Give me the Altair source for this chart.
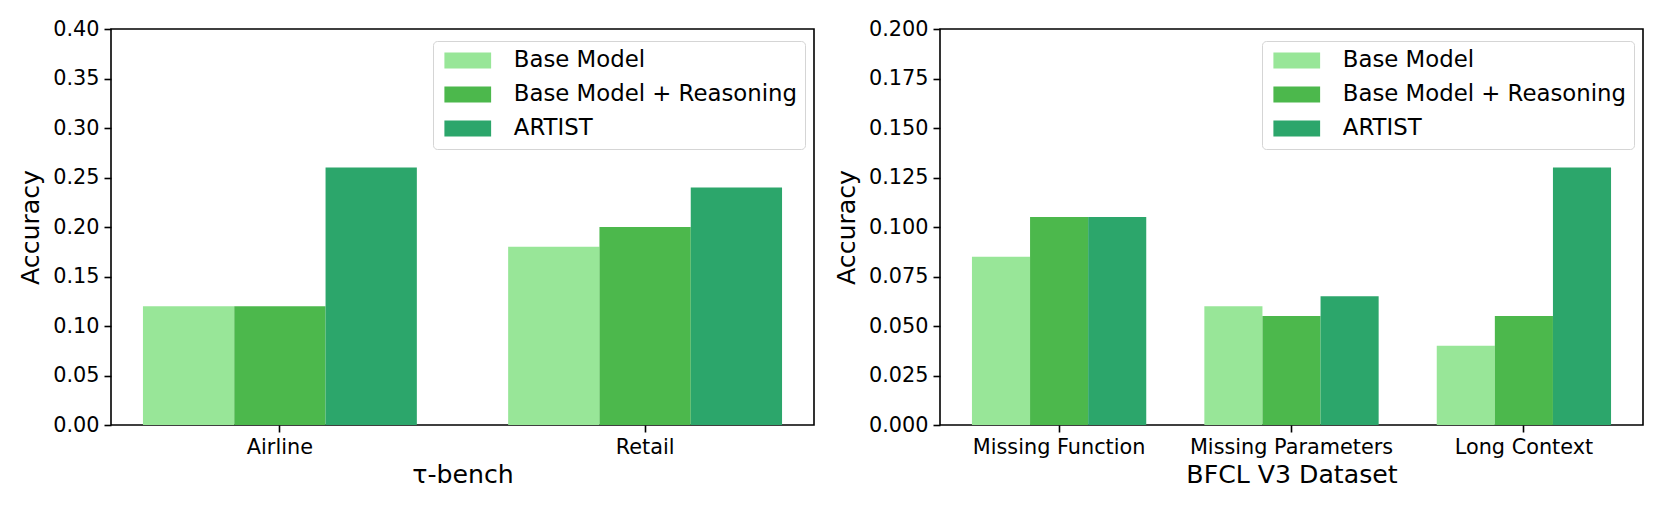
import altair as alt
import pandas as pd

series = ["Base Model", "Base Model + Reasoning", "ARTIST"]
colors = ["#98e698", "#4cb84c", "#2ca66b"]

left_categories = ["Airline", "Retail"]
left_base = [0.12, 0.18]
left_reason = [0.12, 0.20]
left_artist = [0.26, 0.24]
left_yticks = [0.00, 0.05, 0.10, 0.15, 0.20, 0.25, 0.30, 0.35, 0.40]

right_categories = ["Missing Function", "Missing Parameters", "Long Context"]
right_base = [0.085, 0.060, 0.040]
right_reason = [0.105, 0.055, 0.055]
right_artist = [0.105, 0.065, 0.130]
right_yticks = [0.000, 0.025, 0.050, 0.075, 0.100, 0.125, 0.150, 0.175, 0.200]


def long_df(cats, *vals):
    rows = []
    for s, v in zip(series, vals):
        for c, x in zip(cats, v):
            rows.append({"category": c, "series": s, "value": x})
    return pd.DataFrame(rows)


FONT = "DejaVu Sans"
TICK_FS = 20.8
TITLE_FS = 25.2
LEGEND_FS = 22.8


def panel(df, cats, ticks, fmt, xtitle, pad_outer):
    return (
        alt.Chart(df)
        .mark_bar()
        .encode(
            x=alt.X(
                "category:N",
                sort=cats,
                scale=alt.Scale(paddingInner=0.25, paddingOuter=pad_outer),
                axis=alt.Axis(
                    title=xtitle,
                    labelAngle=0,
                    labelFont=FONT,
                    labelFontSize=TICK_FS,
                    labelColor="black",
                    labelLimit=0,
                    labelPadding=5,
                    tickSize=7,
                    tickWidth=1.6,
                    tickColor="black",
                    domain=False,
                    titleFont=FONT,
                    titleFontSize=TITLE_FS,
                    titleFontWeight="normal",
                    titleColor="black",
                    titlePadding=6,
                ),
            ),
            xOffset=alt.XOffset(
                "series:N",
                sort=series,
                scale=alt.Scale(paddingInner=0, paddingOuter=0),
            ),
            y=alt.Y(
                "value:Q",
                scale=alt.Scale(domain=[ticks[0], ticks[-1]], nice=False, zero=True),
                axis=alt.Axis(
                    title="Accuracy",
                    values=ticks,
                    format=fmt,
                    grid=False,
                    domain=False,
                    labelFont=FONT,
                    labelFontSize=TICK_FS,
                    labelColor="black",
                    labelPadding=5,
                    tickSize=7,
                    tickWidth=1.6,
                    tickColor="black",
                    titleFont=FONT,
                    titleFontSize=TITLE_FS,
                    titleFontWeight="normal",
                    titleColor="black",
                    titlePadding=9,
                ),
            ),
            color=alt.Color(
                "series:N",
                sort=series,
                scale=alt.Scale(domain=series, range=colors),
                legend=alt.Legend(
                    title=None,
                    orient="none",
                    legendX=322,
                    legendY=12,
                    symbolType="M-1,-1H4.84V1H-1Z",
                    symbolSize=256,
                    symbolStrokeWidth=0,
                    symbolOpacity=1,
                    labelFont=FONT,
                    labelFontSize=LEGEND_FS,
                    labelColor="black",
                    labelLimit=0,
                    labelOffset=50,
                    rowPadding=10,
                    padding=8,
                    strokeColor="#d5d5d5",
                    fillColor="white",
                    cornerRadius=4,
                ),
            ),
        )
        .properties(width=703, height=396)
    )


left = panel(
    long_df(left_categories, left_base, left_reason, left_artist),
    left_categories, left_yticks, ".2f", "τ-bench", 0.0875,
)
right = panel(
    long_df(right_categories, right_base, right_reason, right_artist),
    right_categories, right_yticks, ".3f", "BFCL V3 Dataset", 0.1375,
)

chart = (
    alt.hconcat(left, right, spacing=18)
    .resolve_scale(color="independent", x="independent", y="independent",
                   xOffset="independent")
    .resolve_legend(color="independent")
    .properties(padding={"left": 9, "top": 9, "right": 5, "bottom": 5},
                background="white")
    .configure_view(stroke="black", strokeWidth=1.6)
)

chart.save("out.html", embed_options={"renderer": "svg", "actions": False})
